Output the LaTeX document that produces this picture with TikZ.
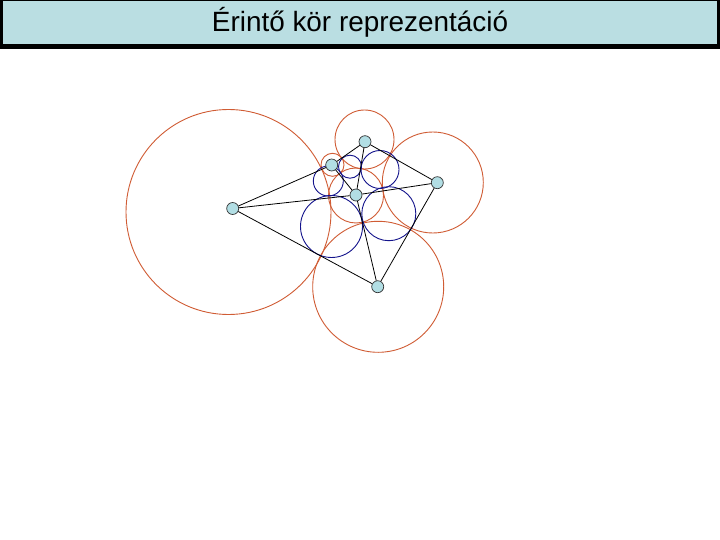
\documentclass[tikz,border=0pt]{standalone}
\usepackage{fontspec}
\setmainfont{Liberation Sans}
\definecolor{orng}{RGB}{208,92,52}
\definecolor{dblue}{RGB}{20,20,140}
\definecolor{nodefill}{RGB}{178,222,228}
\definecolor{titlefill}{RGB}{186,222,226}
\tikzset{
  vert/.style={circle, draw=black!80, fill=nodefill, line width=0.7bp, minimum size=12bp, inner sep=0pt},
  kiss/.style={draw=orng, line width=0.9bp},
  dual/.style={draw=dblue, line width=0.9bp},
  edgeline/.style={draw=black, line width=0.8bp}
}
\begin{document}
\begin{tikzpicture}[x=1bp,y=-1bp]
\useasboundingbox (0,0) rectangle (720,540);
\fill[white] (0,0) rectangle (720,540);
% title bar
\fill[black] (0,0) rectangle (720,49);
\fill[titlefill] (3,1.5) rectangle (717,44.5);
\node[font=\fontsize{28}{28}\selectfont, text=black, anchor=center] (title) at (360,22.5) {Érintő kör reprezentáció};
% orange (kissing) circles
\draw[kiss] (228.5,212) circle [radius=102.5bp];
\draw[kiss] (364.5,139.5) circle [radius=29.5bp];
\draw[kiss] (432.8,182.5) circle [radius=50.5bp];
\draw[kiss] (356,195.5) circle [radius=27.5bp];
\draw[kiss] (332.5,164.8) circle [radius=11.5bp];
\draw[kiss] (378.2,286.8) circle [radius=65.5bp];
% blue (dual) circles
\draw[dual] (328.3,181) circle [radius=15bp];
\draw[dual] (350,166.7) circle [radius=11.5bp];
\draw[dual] (380,169.5) circle [radius=19bp];
\draw[dual] (331.5,226.5) circle [radius=31bp];
\draw[dual] (388.8,213.7) circle [radius=27bp];
% vertices
\node[vert] (A) at (232.7,208.5) {};
\node[vert] (B) at (365,141.7) {};
\node[vert] (C) at (437.3,182.7) {};
\node[vert] (D) at (356,195) {};
\node[vert] (E) at (331.7,165) {};
\node[vert] (F) at (377.7,286.7) {};
% edges
\draw[edgeline] (A) -- (E);
\draw[edgeline] (A) -- (D);
\draw[edgeline] (A) -- (F);
\draw[edgeline] (E) -- (B);
\draw[edgeline] (E) -- (D);
\draw[edgeline] (B) -- (D);
\draw[edgeline] (B) -- (C);
\draw[edgeline] (D) -- (C);
\draw[edgeline] (D) -- (F);
\draw[edgeline] (C) -- (F);
\end{tikzpicture}
\end{document}
